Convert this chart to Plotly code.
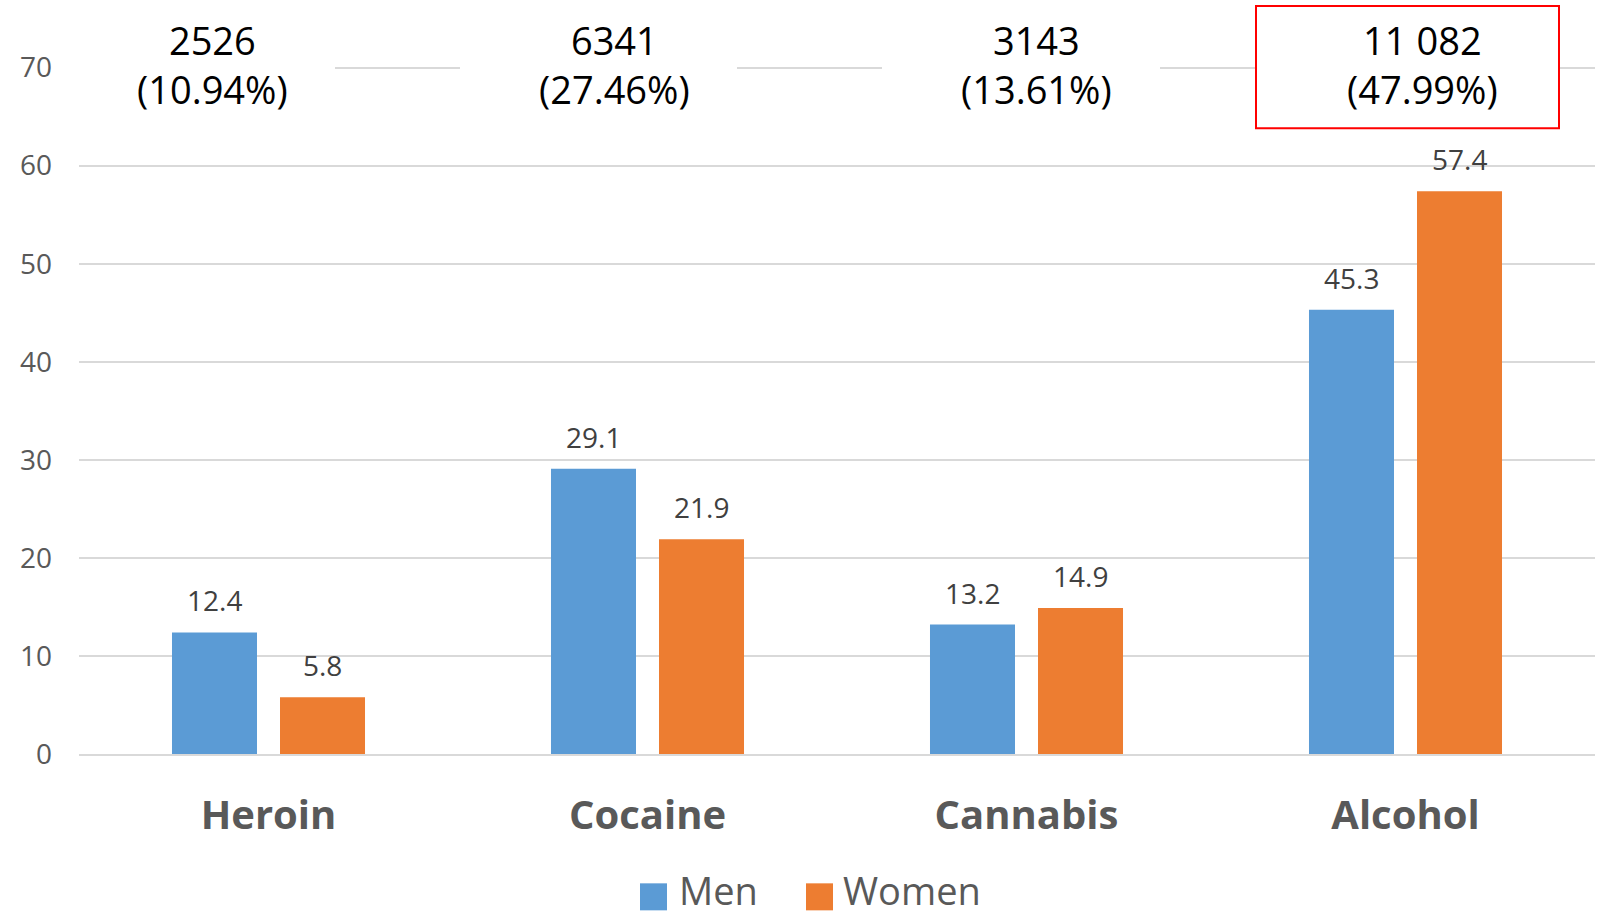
import plotly.graph_objects as go

categories = ["Heroin", "Cocaine", "Cannabis", "Alcohol"]
men = [12.4, 29.1, 13.2, 45.3]
women = [5.8, 21.9, 14.9, 57.4]
counts = ["2526", "6341", "3143", "11 082"]
shares = ["10.94%", "27.46%", "13.61%", "47.99%"]
y_ticks = [0, 10, 20, 30, 40, 50, 60, 70]

BLUE = "#5B9BD5"
ORANGE = "#ED7D31"
FONT = "Open Sans"

W, H = 1604, 917
L, R = 79, 1595
Y0_PX, Y70_PX = 753.7, 67.5
PXU = (Y0_PX - Y70_PX) / 70.0
YMAX = 72
TOP = Y0_PX - YMAX * PXU
BOT = H - Y0_PX
BARGAP = 0.43
GROUPGAP = 0.213


def px_x(px):
    return (px - L) / (R - L)


def px_y(py):
    return (Y0_PX - py) / (Y0_PX - TOP)


fig = go.Figure()
fig.add_trace(go.Bar(x=categories, y=men, name="Men", marker_color=BLUE,
                     marker_line_width=0, showlegend=False))
fig.add_trace(go.Bar(x=categories, y=women, name="Women", marker_color=ORANGE,
                     marker_line_width=0, showlegend=False))

annotations = []
shapes = []
slot = (R - L) / len(categories) * (1 - BARGAP) / 2
for i, c in enumerate(categories):
    for vals, sh in ((men, -slot / 2), (women, slot / 2)):
        annotations.append(dict(x=c, y=vals[i], xref="x", yref="y", text=f"{vals[i]:.1f}",
                                showarrow=False, yanchor="bottom", xshift=sh, yshift=11,
                                font=dict(family=FONT, size=28, color="#404040")))

# header boxes (white backgrounds interrupting the top gridline)
box_px = [(79, 335), (460, 737), (882, 1160), (1256, 1559)]
text_px = [212, 614, 1036, 1422]
for i, (a, b) in enumerate(box_px):
    red = i == 3
    shapes.append(dict(type="rect", xref="paper", yref="paper",
                       x0=px_x(a), x1=px_x(b), y0=px_y(128), y1=px_y(6),
                       fillcolor="white",
                       line=dict(color="#FF0000" if red else "white", width=2 if red else 0),
                       layer="above"))
    annotations.append(dict(x=px_x(text_px[i]), y=px_y(64), xref="paper", yref="paper",
                            text=f"{counts[i]}<br>({shares[i]})", showarrow=False,
                            xanchor="center", yanchor="middle",
                            font=dict(family=FONT, size=38, color="#000000")))

# legend
legend_items = [("Men", BLUE, 640, 682), ("Women", ORANGE, 806, 846)]
for name, col, sx, tx in legend_items:
    shapes.append(dict(type="rect", xref="paper", yref="paper",
                       x0=px_x(sx), x1=px_x(sx + 27), y0=px_y(910), y1=px_y(883),
                       fillcolor=col, line=dict(width=0)))
    annotations.append(dict(x=px_x(tx - 4), y=px_y(917), xref="paper", yref="paper",
                            text=name, showarrow=False, xanchor="left", yanchor="bottom",
                            borderpad=0,
                            font=dict(family=FONT, size=38, color="#595959")))

fig.update_layout(
    width=W, height=H,
    margin=dict(l=L, r=W - R, t=TOP, b=BOT, pad=0),
    paper_bgcolor="white", plot_bgcolor="white",
    barmode="group", bargap=BARGAP, bargroupgap=GROUPGAP,
    showlegend=False,
    annotations=annotations, shapes=shapes,
    font=dict(family=FONT),
)
fig.update_yaxes(range=[0, YMAX], tickvals=y_ticks, showgrid=True, gridcolor="#D9D9D9",
                 gridwidth=2, zeroline=False, showline=False, ticks="",
                 tickfont=dict(family=FONT, size=28, color="#595959"),
                 ticklabelstandoff=26)
fig.update_xaxes(showgrid=False, showline=True, linecolor="#D9D9D9", linewidth=2,
                 ticks="", tickfont=dict(family=FONT, size=40, color="#595959", weight="bold"),
                 ticklabelstandoff=25)

fig.write_html("out.html")
